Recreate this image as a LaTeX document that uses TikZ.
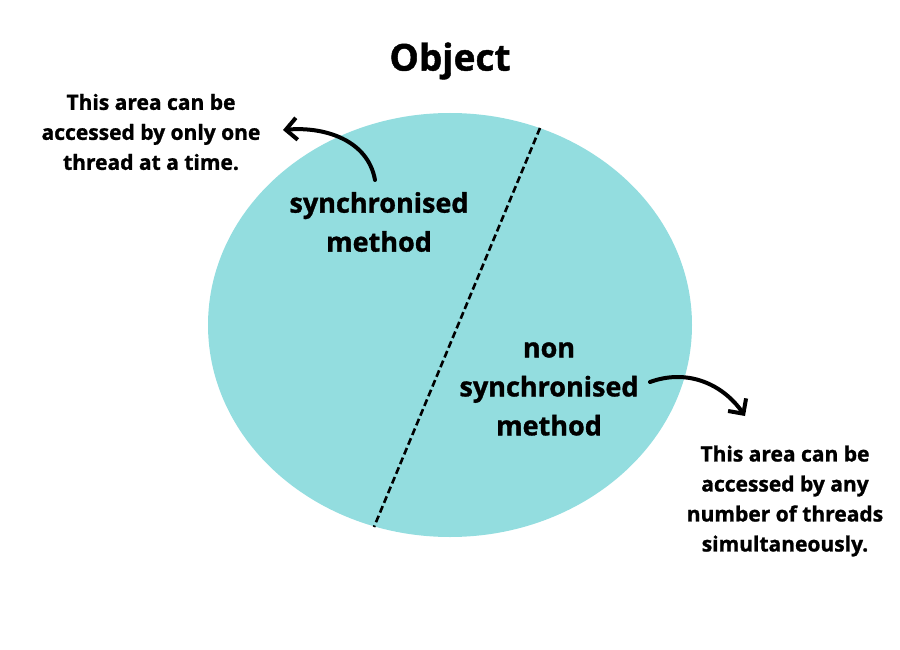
\documentclass[tikz,border=0pt]{standalone}
\usepackage{fontspec}
\setmainfont{Open Sans}[BoldFeatures={FakeBold=1.2}]
\usetikzlibrary{arrows.meta}

\definecolor{objfill}{HTML}{93DDDF}

\tikzset{
    bigtxt/.style={font=\bfseries\fontsize{27}{39}\selectfont,align=center},
    smalltxt/.style={font=\bfseries\fontsize{21}{30}\selectfont,align=center},
    curvearrow/.style={line width=4pt,line cap=round,-{Straight Barb[length=11pt,width=22pt]}}
}

\begin{document}
\begin{tikzpicture}[x=1pt,y=-1pt]
            \useasboundingbox (0,0) rectangle (900,650);

            \fill[objfill] (450,325) ellipse [x radius=242,y radius=212];
            \draw[line width=2.6pt,dash pattern=on 7pt off 3.5pt] (540,128) -- (374,527);

            \node[font=\bfseries\fontsize{37}{40}\selectfont] (title) at (450,61) {Object};

            \node[bigtxt] (sync) at (379,222) {synchronised\\method};
            \node[bigtxt] (nonsync) at (549,389) {non\\synchronised\\method};

            \node[smalltxt] (syncinfo) at (151,132) {This area can be\\accessed by only one\\thread at a time.};
            \node[smalltxt] (nonsyncinfo) at (785,501) {This area can be\\accessed by any\\number of threads\\simultaneously.};

            \coordinate (a1) at (375,180);
            \coordinate (a2) at (283,130);
            \coordinate (b1) at (650,382);
            \coordinate (b2) at (745,416);

            \draw[curvearrow] (a1) to[out=100,in=5] (a2);
            \draw[curvearrow] (b1) to[out=20,in=125] (b2);
        \end{tikzpicture}
\end{document}
